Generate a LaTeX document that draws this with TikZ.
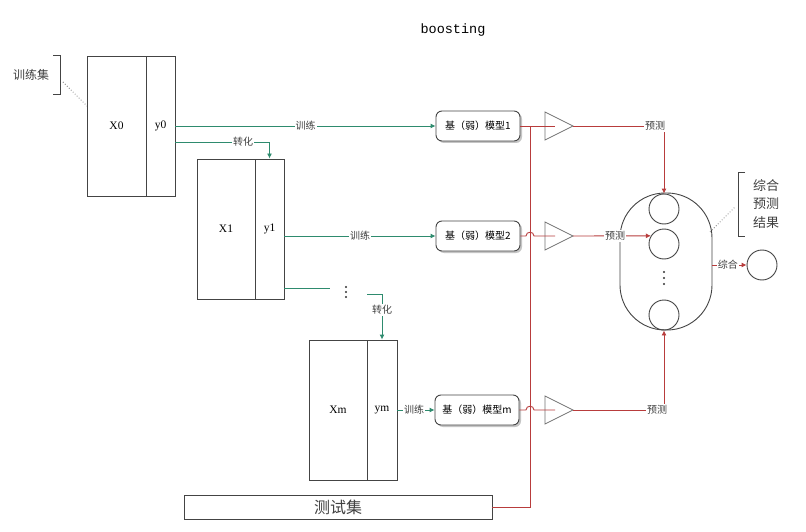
\documentclass[tikz,border=0pt]{standalone}
\usepackage{fontspec}
\setmainfont{Liberation Serif}
\newfontfamily\cjk{Noto Sans CJK SC}
\newfontfamily\monof{Liberation Mono}
\usetikzlibrary{shadows,arrows.meta}
\definecolor{grn}{HTML}{2E8B6E}
\definecolor{rd}{HTML}{B83C3C}
\definecolor{bx}{HTML}{444444}
\begin{document}
\begin{tikzpicture}[x=1pt,y=-1pt,
 databox/.style={draw=bx,line width=0.9pt,minimum height=140,inner sep=0,font=\fontsize{11.5}{12}\selectfont},
 model/.style={draw=bx,line width=0.9pt,rounded corners=6pt,minimum width=84,minimum height=30,fill=white,drop shadow={shadow xshift=2pt,shadow yshift=-2pt,fill=black!45},font=\cjk\fontsize{10}{12}\selectfont,inner sep=0},
 gline/.style={draw=grn,line width=0.9pt},
 rline/.style={draw=rd,line width=0.9pt},
 lab/.style={fill=white,inner sep=1pt,font=\cjk\fontsize{10}{12}\selectfont,text=black!75},
 tri/.style={draw=black!55,line width=0.7pt},
 circ/.style={circle,draw=bx,line width=0.9pt,minimum size=30,inner sep=0},
 dotty/.style={fill=black!80},
 arr/.style={-{Latex[length=5pt,width=5pt]}}
]
\useasboundingbox[fill=white] (0,0) rectangle (806,532);

% title
\node[font=\monof\fontsize{13.5}{14}\selectfont] (title) at (453,30) {boosting};

% training set label
\node[font=\cjk\fontsize{12}{14}\selectfont,text=black!75] (trainset) at (31,75) {训练集};
\draw[bx,line width=0.8pt] (53,55) -- (60,55) -- (60,94) -- (53,94);
\draw[dotted,black!50,line width=0.8pt] (63,82) -- (87,106);

% data boxes
\node[databox,minimum width=59] (X0) at (116.5,126) {X0};
\node[databox,minimum width=29] (y0) at (160.5,126) {y0};
\node[databox,minimum width=58] (X1) at (226,229) {X1};
\node[databox,minimum width=29] (y1) at (269.5,229) {y1};
\node[databox,minimum width=58] (Xm) at (338,410) {Xm};
\node[databox,minimum width=30] (ym) at (382,410) {ym};

% test set
\node[draw=bx,line width=0.9pt,minimum width=308,minimum height=24,inner sep=0,font=\cjk\fontsize{16}{18}\selectfont,text=black!75] (test) at (338,507) {测试集};

% models
\node[model] (m1) at (478,126) {基（弱）模型1};
\node[model] (m2) at (478,236) {基（弱）模型2};
\node[model] (mm) at (477,410) {基（弱）模型m};

% green connectors
\draw[gline,arr] (y0.east |- m1) -- node[lab] {训练} (m1);
\draw[gline,arr] (y0.east |- 0,142) -| (y1.north);
\node[lab] (tr1) at (243,142) {转化};
\draw[gline,arr] (y1.east |- m2) -- node[lab] {训练} (m2);
\coordinate (g1) at (330,288);
\draw[gline] (y1.east |- g1) -- (g1);
\foreach \yy in {287,292,297} \fill[dotty] (346,\yy) circle (1.1);
\coordinate (g2) at (367,294);
\draw[gline,arr] (g2) -| (ym.north);
\node[lab] (tr2) at (382,310) {转化};
\draw[gline,arr] (ym.east |- mm) -- node[lab,pos=0.45] {训练} (mm);

% junction and vertical red line
\coordinate (j1) at (530,126);
\draw[rline] (test.east) -| (j1);

% triangles
\draw[tri] (545,112) -- (573,126) -- (545,140) -- cycle;
\draw[tri] (545,222) -- (573,236) -- (545,250) -- cycle;
\draw[tri] (545,396) -- (573,410) -- (545,424) -- cycle;
\coordinate (t1) at (573,126);
\coordinate (t2) at (573,236);
\coordinate (tm) at (573,410);

% model -> triangle
\draw[rline] (m1.east) -- (555,126);
\draw[rline] (m2.east) -- (526,236) .. controls (526,231) and (534,231) .. (534,236) -- (555,236);
\draw[rline] (mm.east) -- (526,410) .. controls (526,405) and (534,405) .. (534,410) -- (555,410);

% ensemble
\node[draw=bx,line width=0.9pt,rounded corners=45pt,minimum width=92,minimum height=137,inner sep=0] (pill) at (666,261.5) {};
\node[circ] (c1) at (664,209) {};
\node[circ] (c2) at (664,244) {};
\foreach \yy in {272,278,284} \fill[dotty] (664,\yy) circle (1.1);
\node[circ] (c3) at (664,315) {};
\node[circ] (out) at (762,265) {};

% predictions
\draw[rline,arr] (t1) -| (c1.north);
\node[lab] (p1) at (655,126) {预测};
\draw[rline,arr] (t2) -- (c2.148);
\node[lab] (p2) at (615,236) {预测};
\draw[rline,arr] (tm) -| (c3.south);
\node[lab] (p3) at (657,410) {预测};

% combine
\draw[rline,arr] (pill.east |- out) -- node[lab,pos=0.45] {综合} (out);

% result bracket
\draw[bx,line width=0.8pt] (745,172) -- (738,172) -- (738,236) -- (745,236);
\node[align=left,font=\cjk\fontsize{13}{18.5}\selectfont,text=black!75] (res) at (766,204) {综合\\预测\\结果};
\draw[dotted,black!50,line width=0.8pt] (710,232) -- (735,207);
\end{tikzpicture}
\end{document}
